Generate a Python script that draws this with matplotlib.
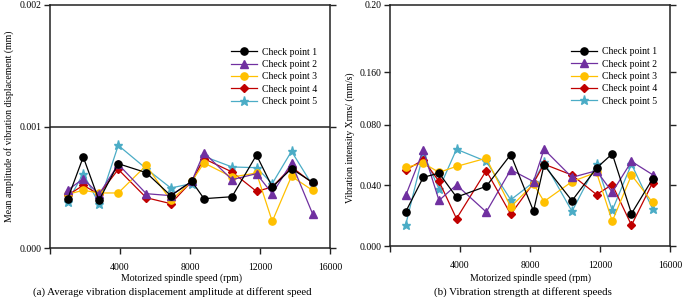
import numpy as np
import matplotlib
matplotlib.use('Agg')
import matplotlib.pyplot as plt

plt.rcParams['font.family'] = ['Liberation Serif', 'DejaVu Serif']
plt.rcParams['font.size'] = 7

LABELS = ['Check point 1', 'Check point 2', 'Check point 3', 'Check point 4', 'Check point 5']
COLORS = ['#000000', '#7030A0', '#FFC000', '#C00000', '#4BACC6']
MARKERS = ['o', '^', 'o', 'D', '*']
MSIZES = [5.2, 5.2, 5.2, 3.8, 6.5]

# (a) mean vibration displacement amplitude (mm)
speed_a = [1000, 1900, 2800, 3900, 5500, 6900, 8100, 8800, 10400, 11800, 12700, 13800, 15000]
disp_cp1 = [0.000400, 0.000749, 0.000392, 0.000694, 0.000620, 0.000431, 0.000549, 0.000406, 0.000422, 0.000765, 0.000502, 0.000653, 0.000540]
disp_cp2 = [0.000475, 0.000570, 0.000442, 0.000689, 0.000447, 0.000431, 0.000549, 0.000785, 0.000562, 0.000612, 0.000447, 0.000700, 0.000283]
disp_cp3 = [0.000442, 0.000475, 0.000453, 0.000453, 0.000680, 0.000392, 0.000549, 0.000700, 0.000584, 0.000617, 0.000219, 0.000590, 0.000475]
disp_cp4 = [0.000433, 0.000516, 0.000442, 0.000647, 0.000414, 0.000365, 0.000549, 0.000735, 0.000626, 0.000466, 0.000502, 0.000667, 0.000535]
disp_cp5 = [0.000379, 0.000612, 0.000365, 0.000845, 0.000653, 0.000494, 0.000530, 0.000754, 0.000667, 0.000661, 0.000530, 0.000796, 0.000516]

# (b) vibration intensity Xrms (mm/s)
speed_b = [900, 1900, 2800, 3800, 5500, 6900, 8200, 8800, 10400, 11800, 12700, 13800, 15000]
vib_cp1 = [0.0226, 0.0452, 0.0480, 0.0322, 0.0393, 0.0602, 0.0230, 0.0533, 0.0298, 0.0513, 0.0607, 0.0213, 0.0441]
vib_cp2 = [0.0333, 0.0630, 0.0300, 0.0402, 0.0224, 0.0502, 0.0424, 0.0637, 0.0452, 0.0496, 0.0354, 0.0557, 0.0470]
vib_cp3 = [0.0517, 0.0546, 0.0485, 0.0524, 0.0578, 0.0257, 0.0409, 0.0293, 0.0424, 0.0485, 0.0163, 0.0467, 0.0287]
vib_cp4 = [0.0500, 0.0567, 0.0426, 0.0180, 0.0496, 0.0209, 0.0415, 0.0539, 0.0467, 0.0339, 0.0404, 0.0137, 0.0415]
vib_cp5 = [0.0141, 0.0609, 0.0376, 0.0637, 0.0557, 0.0304, 0.0420, 0.0554, 0.0228, 0.0539, 0.0235, 0.0539, 0.0246]

# broken y scale of panel (b): value -> relative height
scale_v = [-1.0, 0.0, 0.08, 0.16, 0.20, 1.2]
scale_p = [-1518.75, 0.0, 121.5, 174.0, 241.0, 1916.0]


def fwd(v):
    return np.interp(v, scale_v, scale_p)


def inv(p):
    return np.interp(p, scale_p, scale_v)


def style_axes(ax, yticks, ylabels):
    for s in ax.spines.values():
        s.set_linewidth(1.1)
        s.set_color('#222222')
    ax.set_xlim(0, 16000)
    ax.set_xticks([0, 4000, 8000, 12000, 16000])
    ax.set_xticklabels(['', '4000', '8000', '12000', '16000'])
    ax.set_yticks(yticks)
    ax.set_yticklabels(ylabels)
    ax.tick_params(direction='out', length=4, width=1.0, pad=2, colors='#222222',
                   labelcolor='black', right=True)
    ax.tick_params(axis='x', pad=7)
    ax.set_xlabel('Motorized spindle speed (rpm)', labelpad=1)


def draw(ax, x, series):
    handles = []
    for i in reversed(range(5)):
        h, = ax.plot(x, series[i], color=COLORS[i], marker=MARKERS[i], markersize=MSIZES[i],
                     linewidth=0.9, label=LABELS[i])
        handles.insert(0, h)
    ax.legend(handles=handles, loc='upper left', bbox_to_anchor=(0.63, 0.845), frameon=False,
              handlelength=2.6, handletextpad=0.6, labelspacing=0.35, borderpad=0, fontsize=7)


fig = plt.figure(figsize=(6.85, 2.97), dpi=100)

ax1 = fig.add_axes([50 / 685, 1 - 248 / 297, 280 / 685, 243 / 297])
draw(ax1, speed_a, [disp_cp1, disp_cp2, disp_cp3, disp_cp4, disp_cp5])
ax1.set_ylim(0, 0.002)
style_axes(ax1, [0, 0.001, 0.002], ['0.000', '0.001', '0.002'])
ax1.axhline(0.001, color='#222222', linewidth=1.1, zorder=0)
ax1.set_ylabel('Mean amplitude of vibration displacement (mm)', labelpad=4)
ax1.xaxis.set_label_coords(0.471, -0.105)

ax2 = fig.add_axes([390 / 685, 1 - 246 / 297, 280 / 685, 241 / 297])
ax2.set_yscale('function', functions=(fwd, inv))
draw(ax2, speed_b, [vib_cp1, vib_cp2, vib_cp3, vib_cp4, vib_cp5])
ax2.set_ylim(0, 0.20)
style_axes(ax2, [0, 0.04, 0.08, 0.16, 0.20], ['0.000', '0.040', '0.080', '0.160', '0.20'])
ax2.yaxis.set_minor_locator(matplotlib.ticker.NullLocator())
ax2.set_ylabel('Vibration intensity Xrms/ (mm/s)', labelpad=4)
ax2.yaxis.set_label_coords(-0.125, 0.45)
ax2.xaxis.set_label_coords(0.5, -0.114)

fig.text(172 / 685, 1 - 292 / 297, '(a) Average vibration displacement amplitude at different speed',
         ha='center', va='center', fontsize=7.8)
fig.text(523 / 685, 1 - 292 / 297, '(b) Vibration strength at different speeds',
         ha='center', va='center', fontsize=7.8)

fig.savefig('out.png', dpi=100)
